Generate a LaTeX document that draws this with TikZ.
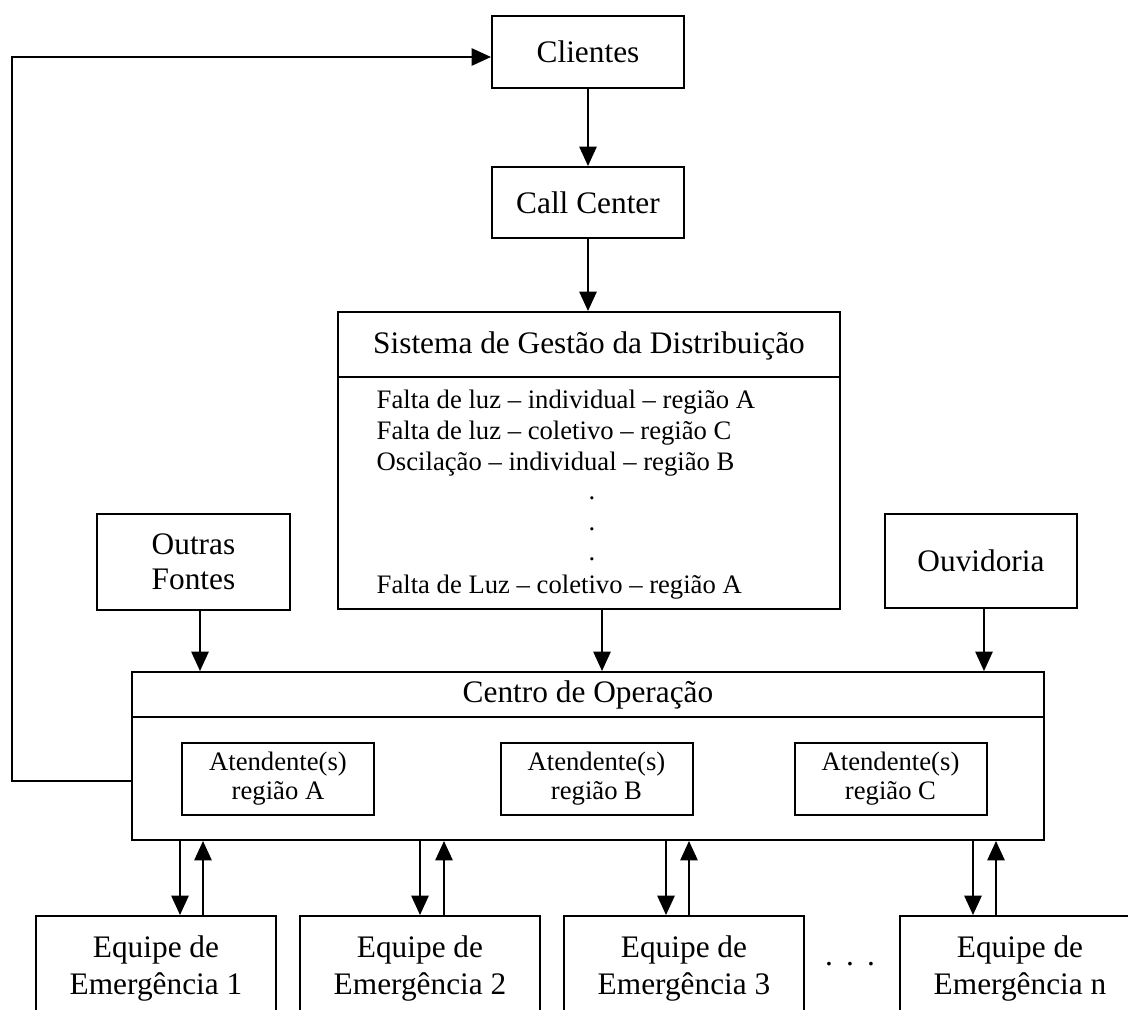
\documentclass[tikz,border=0pt]{standalone}
\usepackage{fontspec}
\setmainfont{Liberation Serif}
\usetikzlibrary{arrows.meta,calc}
\newcommand\txtbig{\fontsize{23.5}{26.5}\selectfont}
\newcommand\txtsmall{\fontsize{20}{21.75}\selectfont}
\begin{document}
\begin{tikzpicture}[x=0.75pt,y=-0.75pt,
  box/.style={draw,line width=1.5pt,inner sep=0pt,align=center,font=\txtbig},
  smallbox/.style={box,font=\txtsmall,minimum width=144pt,minimum height=54pt},
  teambox/.style={box,font=\txtbig,text depth=0pt,minimum width=180pt,minimum height=73.5pt,
    execute at begin node={\baselineskip=27.75pt}},
  arr/.style={line width=1.2pt,-{Triangle[length=14.5pt,width=13pt]}},
  sep/.style={line width=1.5pt}]
\path[use as bounding box] (0,0) rectangle (1128,1010);
\clip (0,0) rectangle (1128,1010);

% top chain
\node[box,minimum width=144pt,minimum height=54pt] (cli) at (588,52) {Clientes};
\node[box,minimum width=144pt,minimum height=53.25pt] (call) at (588,202.5) {Call Center};

% distribution management system with its list of occurrences
\node[box,minimum width=376.5pt,minimum height=222.75pt] (sgd) at (589,460.5) {};
\coordinate (sepS) at (0,377);
\draw[sep] (sgd.west |- sepS) -- (sgd.east |- sepS);
\node[font=\txtbig] (sgdt) at (589,346) {Sistema de Gestão da Distribuição};
\node[anchor=base west,font=\txtsmall] (l1) at (372,408) {Falta de luz – individual – região A};
\node[anchor=base west,font=\txtsmall] (l2) at (372,439) {Falta de luz – coletivo – região C};
\node[anchor=base west,font=\txtsmall] (l3) at (372,470) {Oscilação – individual – região B};
\node[anchor=base,font=\txtsmall] (d1) at (592,499) {.};
\node[anchor=base,font=\txtsmall] (d2) at (592,530) {.};
\node[anchor=base,font=\txtsmall] (d3) at (592,560) {.};
\node[anchor=base west,font=\txtsmall] (l4) at (372,593) {Falta de Luz – coletivo – região A};

% side sources
\node[box,minimum width=144.75pt,minimum height=72pt,
  execute at begin node={\baselineskip=26.25pt}] (out) at (193.5,562) {Outras\\Fontes};
\node[box,minimum width=144pt,minimum height=70.5pt] (ouv) at (981,561) {Ouvidoria};

% operation centre
\node[box,minimum width=684pt,minimum height=126pt] (co) at (588,756) {};
\coordinate (sepC) at (0,717);
\draw[sep] (co.west |- sepC) -- (co.east |- sepC);
\node[font=\txtbig] (cot) at (588,695) {Centro de Operação};
\node[smallbox] (atA) at (278,779) {Atendente(s)\\região A};
\node[smallbox] (atB) at (596.5,779) {Atendente(s)\\região B};
\node[smallbox] (atC) at (890.5,779) {Atendente(s)\\região C};

% emergency teams
\node[teambox] (eq1) at (156,965) {Equipe de\\Emergência 1};
\node[teambox] (eq2) at (420,965) {Equipe de\\Emergência 2};
\node[teambox] (eq3) at (684,965) {Equipe de\\Emergência 3};
\node[teambox] (eqn) at (1020,965) {Equipe de\\Emergência n};
\node[anchor=base,font=\txtbig] (ell) at (850,965) {.\hspace{9.85pt}.\hspace{9.85pt}.};

% connectors
\coordinate (fbA) at (12,781);
\coordinate (fbB) at (12,57);
\draw[arr] (co.west |- fbA) -- (fbA) -- (fbB) -- (cli.west |- fbB);
\draw[arr] (cli.south) -- (call.north);
\draw[arr] (call.south) -- (sgd.north -| call.south);
\coordinate (xs) at (602,0);
\draw[arr] (sgd.south -| xs) -- (co.north -| xs);
\coordinate (xo) at (200,0);
\draw[arr] (out.south -| xo) -- (co.north -| xo);
\coordinate (xv) at (984,0);
\draw[arr] (ouv.south -| xv) -- (co.north -| xv);
\foreach \eq/\xd/\xu in {eq1/180/203, eq2/420/444, eq3/666/689, eqn/973/996} {
  \coordinate (dn) at (\xd,0);
  \coordinate (up) at (\xu,0);
  \draw[arr] (co.south -| dn) -- (\eq.north -| dn);
  \draw[arr] (\eq.north -| up) -- (co.south -| up);
}
\end{tikzpicture}
\end{document}
